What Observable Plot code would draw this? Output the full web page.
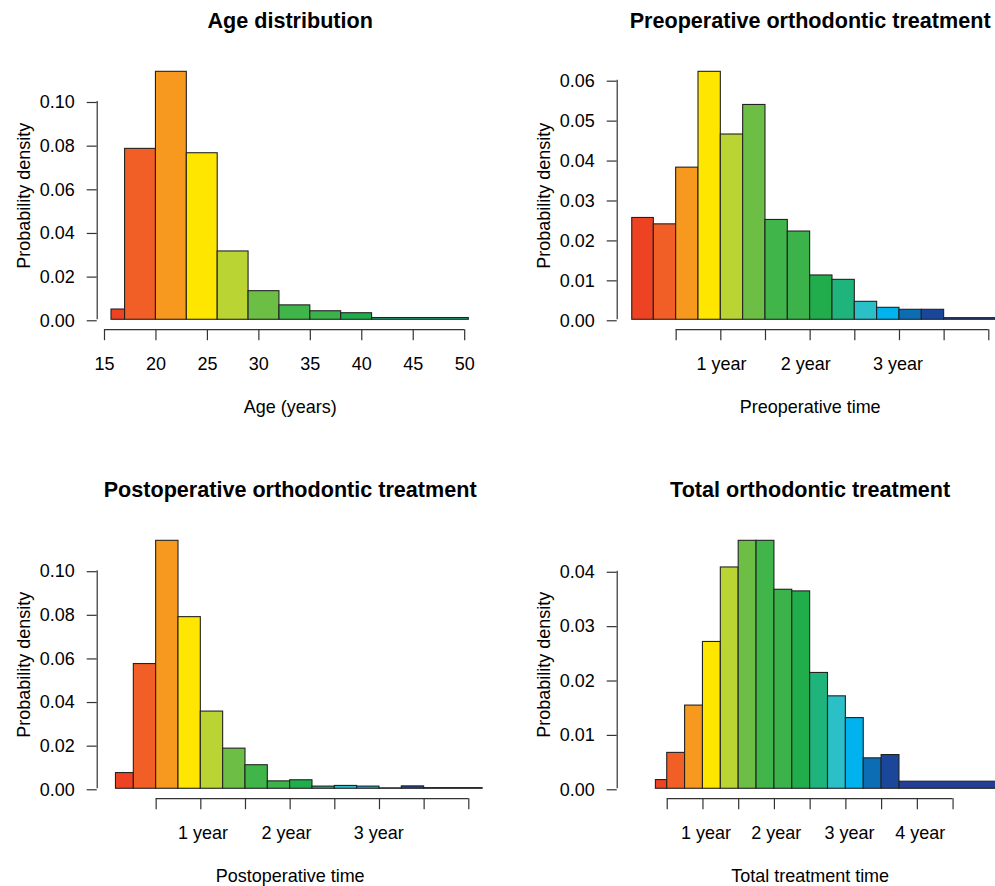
<!DOCTYPE html>
<html><head><meta charset="utf-8">
<script src="https://cdn.jsdelivr.net/npm/d3@7"></script>
<script src="https://cdn.jsdelivr.net/npm/@observablehq/plot@0.6"></script>
<style>
html,body{margin:0;padding:0;background:#fff;overflow:hidden;}
#fig{position:relative;width:995px;height:886px;overflow:hidden;background:#fff;}
#fig > svg{position:absolute;}
</style></head><body><div id="fig"></div>
<script>
// bar colours, used in order of the bins
const palette = ["#EE4323","#F15E26","#F7981F","#FFE600","#B9D433","#6DBE45","#40B54A","#3BB34A","#22AD4C","#1EB47B","#2BBFC8","#00B2EE","#0C6CB4","#1B479A","#213F94"];

// Age distribution (years)
const ageBreaks  = [15.68, 17, 20, 23, 26, 29, 32, 35, 38, 41, 50.4];
const ageDensity = [0.0047, 0.0783, 0.1136, 0.0763, 0.0313, 0.0131, 0.0066, 0.0039, 0.0030, 0.0008];
const ageXTicks  = [15, 20, 25, 30, 35, 40, 45, 50];
const ageXLabels = ["15", "20", "25", "30", "35", "40", "45", "50"];
const ageYTicks  = [0, 0.02, 0.04, 0.06, 0.08, 0.10];

// Preoperative time (months)
const preBreaks  = [0.1, 3, 6, 9, 12, 15, 18, 21, 24, 27, 30, 33, 36, 39, 42, 60];
const preDensity = [0.0255, 0.0239, 0.0381, 0.0621, 0.0464, 0.0538, 0.0250, 0.0221, 0.0111, 0.0100, 0.0045, 0.0030, 0.0025, 0.0025, 0.0004];
const preXTicks  = [6, 12, 18, 24, 30, 36, 42, 48];
const preXLabelAt = [12.1, 23.4, 35.8];
const preXLabels = ["1 year", "2 year", "3 year"];
const preYTicks  = [0, 0.01, 0.02, 0.03, 0.04, 0.05, 0.06];

// Postoperative time (months)
const postBreaks  = [0.6, 3, 6, 9, 12, 15, 18, 21, 24, 27, 30, 33, 36, 39, 42, 55];
const postDensity = [0.0072, 0.0572, 0.1137, 0.0787, 0.0354, 0.0184, 0.0108, 0.0034, 0.0039, 0.0010, 0.0013, 0.0010, 0.0002, 0.0011, 0.0003];
const postXTicks  = [6, 12, 18, 24, 30, 36, 42, 48];
const postXLabelAt = [12.3, 23.5, 35.9];
const postXLabels = ["1 year", "2 year", "3 year"];
const postYTicks  = [0, 0.02, 0.04, 0.06, 0.08, 0.10];

// Total treatment time (months)
const totBreaks  = [4.1, 6, 9, 12, 15, 18, 21, 24, 27, 30, 33, 36, 39, 42, 45, 80];
const totDensity = [0.0016, 0.0066, 0.0153, 0.0270, 0.0407, 0.0456, 0.0456, 0.0366, 0.0363, 0.0213, 0.0170, 0.0130, 0.0056, 0.0062, 0.0013];
const totXTicks  = [6, 12, 18, 24, 30, 36, 42, 48, 54];
const totXLabelAt = [12.5, 24.3, 36.6, 48.5];
const totXLabels = ["1 year", "2 year", "3 year", "4 year"];
const totYTicks  = [0, 0.01, 0.02, 0.03, 0.04];

const panels = [
  {title: "Age distribution", xlabel: "Age (years)", breaks: ageBreaks, density: ageDensity,
   xlim: [ageBreaks[0], ageBreaks[ageBreaks.length - 1]], xTicks: ageXTicks, xLabelAt: ageXTicks, xLabels: ageXLabels, yTicks: ageYTicks, col: 0, row: 0},
  {title: "Preoperative orthodontic treatment", xlabel: "Preoperative time", breaks: preBreaks, density: preDensity,
   xlim: [0, 48], xTicks: preXTicks, xLabelAt: preXLabelAt, xLabels: preXLabels, yTicks: preYTicks, col: 1, row: 0},
  {title: "Postoperative orthodontic treatment", xlabel: "Postoperative time", breaks: postBreaks, density: postDensity,
   xlim: [0, 48], xTicks: postXTicks, xLabelAt: postXLabelAt, xLabels: postXLabels, yTicks: postYTicks, col: 0, row: 1},
  {title: "Total orthodontic treatment", xlabel: "Total treatment time", breaks: totBreaks, density: totDensity,
   xlim: [0, 60], xTicks: totXTicks, xLabelAt: totXLabelAt, xLabels: totXLabels, yTicks: totYTicks, col: 1, row: 1}
];

const W = 520.3, H = 469.4;
const M = {left: 96.7, right: 37.7, top: 61.4, bottom: 140.2};
const FONT = "'Liberation Sans', Arial, Helvetica, sans-serif";
const fig = document.getElementById("fig");

for (const p of panels) {
  const ext = 0.04 * (p.xlim[1] - p.xlim[0]);
  const xDomain = [p.xlim[0] - ext, p.xlim[1] + ext];
  const ymax = d3.max(p.density);
  const yDomain = [-0.04 * ymax, 1.04 * ymax];
  const bins = p.density.map((d, i) => ({x1: p.breaks[i], x2: p.breaks[i + 1], d, color: palette[i]}));
  const svg = Plot.plot({
    width: W, height: H,
    marginLeft: M.left, marginRight: M.right, marginTop: M.top, marginBottom: M.bottom,
    x: {domain: xDomain},
    y: {domain: yDomain},
    color: {type: "identity"},
    style: {fontFamily: FONT, background: "transparent", overflow: "visible", color: "#000"},
    marks: [
      Plot.rect(bins, {x1: "x1", x2: "x2", y1: 0, y2: "d", fill: "color", stroke: "#222", strokeWidth: 1.1, clip: true}),
      Plot.ruleX([xDomain[0]], {y1: p.yTicks[0], y2: p.yTicks[p.yTicks.length - 1], stroke: "#333", strokeWidth: 1.2}),
      Plot.ruleY([yDomain[0]], {x1: p.xTicks[0], x2: p.xTicks[p.xTicks.length - 1], stroke: "#333", strokeWidth: 1.2}),
      Plot.axisY({ticks: p.yTicks, tickSize: 10, tickPadding: 12.5, tickFormat: d3.format(".2f"), fontSize: 18, label: null, stroke: "#333", strokeWidth: 1.2, dy: 1}),
      Plot.axisX({ticks: p.xTicks, tickSize: 11, tickFormat: () => "", label: null, stroke: "#333", strokeWidth: 1.2}),
      Plot.text(p.xLabels, {x: (d, i) => p.xLabelAt[i], text: d => d, frameAnchor: "bottom", dy: 40.5, lineAnchor: "bottom", fontSize: 18}),
      Plot.text([p.title], {text: d => d, frameAnchor: "top", dy: -33.5, lineAnchor: "bottom", textAnchor: "middle", fontSize: 21.6, fontWeight: "bold"}),
      Plot.text([p.xlabel], {text: d => d, frameAnchor: "bottom", dy: 83.5, lineAnchor: "bottom", textAnchor: "middle", fontSize: 18}),
      Plot.text(["Probability density"], {text: d => d, frameAnchor: "left", dx: -67.3, rotate: -90, lineAnchor: "bottom", textAnchor: "middle", fontSize: 18})
    ]
  });
  svg.style.left = (p.col * W) + "px";
  svg.style.top = (p.row * H) + "px";
  svg.style.maxWidth = "none";
  fig.appendChild(svg);
}
</script></body></html>
